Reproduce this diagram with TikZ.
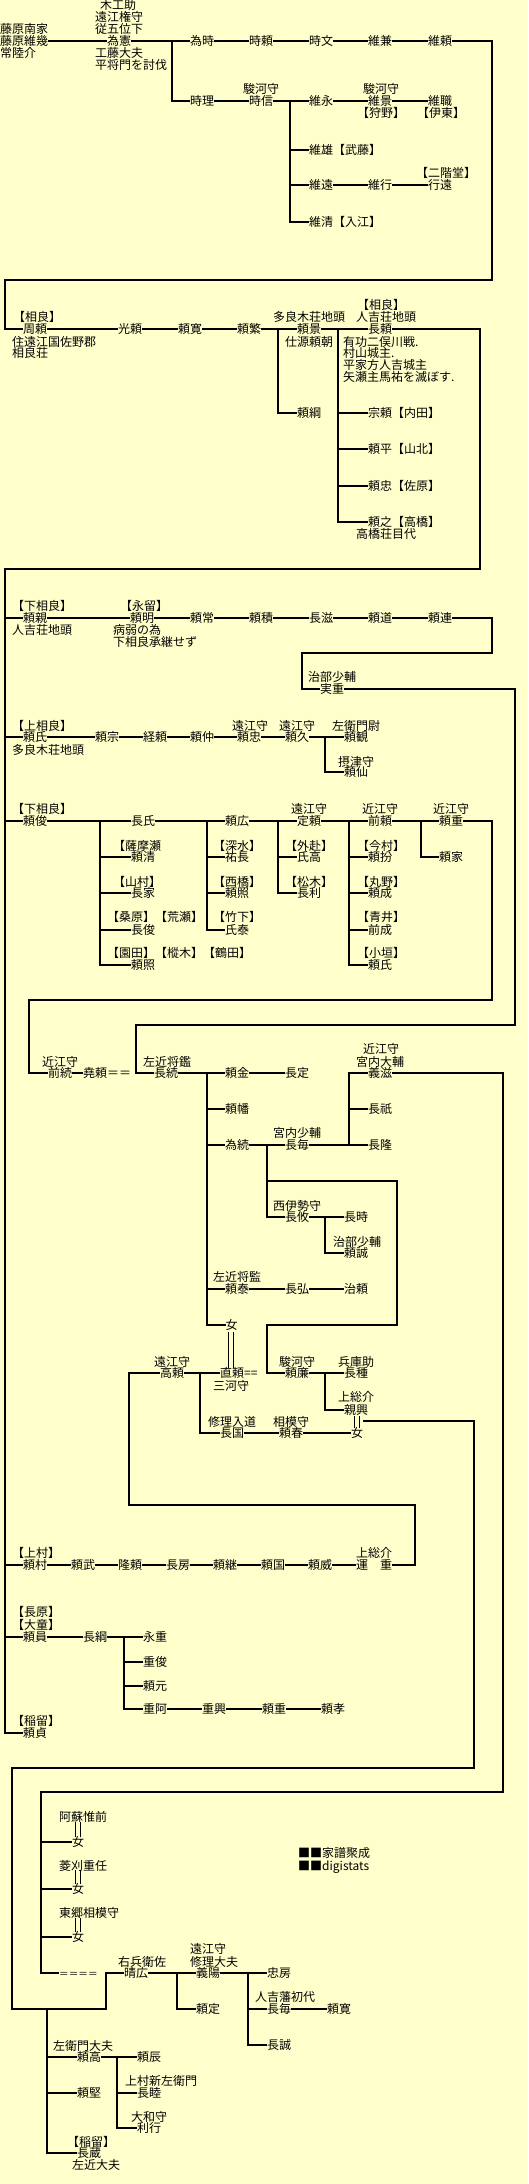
\documentclass[tikz,border=0pt]{standalone}
\usepackage{fontspec}
\newfontfamily\jp{Noto Sans CJK JP}
\definecolor{bgc}{HTML}{FFFFCC}
\newcommand\PN[4]{\node[nm] (#1) at (#2,#3) {#4};}
\begin{document}
\begin{tikzpicture}[x=1pt,y=-1pt,
 nm/.style={anchor=west,inner sep=0pt,text height=10.5pt,text depth=1.5pt,font={\jp\fontsize{12pt}{14pt}\selectfont}},
 ln/.style={line width=2pt},
 dbl/.style={line width=0.9pt}]
\fill[bgc] (0,0) rectangle (528,2184);
\useasboundingbox (0,0) rectangle (528,2184);
% ---------- section A
\PN{nanke}{0}{29.5}{藤原南家}
\PN{koreiku}{0}{41.5}{藤原維幾}
\PN{hitachi}{0}{53.5}{常陸介}
\PN{tA1}{100}{5.5}{木工助}
\PN{tA2}{95}{17.5}{遠江権守}
\PN{tA3}{95}{29.5}{従五位下}
\PN{tamenori}{107}{41.5}{為憲}
\PN{tA4}{95}{53.5}{工藤大夫}
\PN{tA5}{95}{65.5}{平将門を討伐}
\PN{tametoki}{190}{41.5}{為時}
\PN{tokiyori}{249}{41.5}{時頼}
\PN{tokifumi}{309}{41.5}{時文}
\PN{korekane}{368}{41.5}{維兼}
\PN{koreyori}{428}{41.5}{維頼}
\foreach \a/\b in {koreiku/tamenori,tamenori/tametoki,tametoki/tokiyori,tokiyori/tokifumi,tokifumi/korekane,korekane/koreyori} \draw[ln] (\a.east) -- (\b.west);
\coordinate (j1) at (172,41.5);
\PN{tokimasa}{190}{100.5}{時理}
\PN{tB1}{243}{88.5}{駿河守}
\PN{tokinobu}{249}{100.5}{時信}
\PN{korenaga}{309}{100.5}{維永}
\PN{tB2}{363}{88.5}{駿河守}
\PN{korekage}{368}{100.5}{維景}
\PN{tB3}{357}{112.5}{【狩野】}
\PN{koremoto}{428}{100.5}{維職}
\PN{tB4}{417}{112.5}{【伊東】}
\draw[ln] (j1) |- (tokimasa.west);
\foreach \a/\b in {tokimasa/tokinobu,tokinobu/korenaga,korenaga/korekage,korekage/koremoto} \draw[ln] (\a.east) -- (\b.west);
\coordinate (j2) at (290,100.5);
\PN{koreo}{309}{149.5}{維雄【武藤】}
\PN{tB5}{416}{173}{【二階堂】}
\PN{koretoo}{309}{185}{維遠}
\PN{koreyuki}{368}{185}{維行}
\PN{yukitoo}{428}{185}{行遠}
\PN{korekiyo}{309}{221.5}{維清【入江】}
\foreach \c in {koreo,koretoo,korekiyo} \draw[ln] (j2) |- (\c.west);
\foreach \a/\b in {koretoo/koreyuki,koreyuki/yukitoo} \draw[ln] (\a.east) -- (\b.west);
% ---------- section B
\PN{tC1}{13}{316.5}{【相良】}
\PN{chikayori}{23}{328.5}{周頼}
\PN{tC2}{12}{341.5}{住遠江国佐野郡}
\PN{tC3}{12}{353}{相良荘}
\PN{mitsuyori}{118}{328.5}{光頼}
\PN{yorihiro}{178}{328.5}{頼寛}
\PN{yorishige}{237}{328.5}{頼繁}
\PN{tC4}{273}{316.5}{多良木荘地頭}
\PN{yorikage}{297}{328.5}{頼景}
\PN{tC5}{285}{341.5}{仕源頼朝}
\PN{tC6}{357}{305}{【相良】}
\PN{tC7}{356}{316.5}{人吉荘地頭}
\PN{nagayori}{368}{328.5}{長頼}
\coordinate (r1a) at (492,280);
\coordinate (r1b) at (5,280);
\draw[ln] (koreyori.east) -| (r1a) -- (r1b) |- (chikayori.west);
\foreach \a/\b in {chikayori/mitsuyori,mitsuyori/yorihiro,yorihiro/yorishige,yorishige/yorikage,yorikage/nagayori} \draw[ln] (\a.east) -- (\b.west);
\coordinate (j3) at (278,328.5);
\PN{yoritsuna}{297}{412.5}{頼綱}
\draw[ln] (j3) |- (yoritsuna.west);
\coordinate (j4) at (338,328.5);
\PN{tC8}{343}{341.5}{有功二俣川戦.}
\PN{tC9}{343}{353}{村山城主.}
\PN{tC10}{343}{365}{平家方人吉城主}
\PN{tC11}{343}{377}{矢瀬主馬祐を滅ぼす.}
\PN{muneyori}{368}{413}{宗頼【内田】}
\PN{yorihira}{368}{449}{頼平【山北】}
\PN{yoritada}{368}{485.5}{頼忠【佐原】}
\PN{yoriyuki}{368}{521.5}{頼之【高橋】}
\PN{tC12}{356}{533.5}{高橋荘目代}
\foreach \c in {muneyori,yorihira,yoritada,yoriyuki} \draw[ln] (j4) |- (\c.west);
% ---------- section C
\PN{tD1}{12}{605.5}{【下相良】}
\PN{yorichika}{23}{617.5}{頼親}
\PN{tD2}{12}{630}{人吉荘地頭}
\PN{tD3}{120}{605.5}{【永留】}
\PN{yoriaki}{130}{617.5}{頼明}
\PN{tD4}{113}{630}{病弱の為}
\PN{tD5}{113}{641.5}{下相良承継せず}
\PN{yoritsune}{190}{617.5}{頼常}
\PN{yoritsumi}{249}{617.5}{頼積}
\PN{nagashige}{309}{617.5}{長滋}
\PN{yorimichi}{368}{617.5}{頼道}
\PN{yoritsura}{428}{617.5}{頼連}
\foreach \a/\b in {yorichika/yoriaki,yoriaki/yoritsune,yoritsune/yoritsumi,yoritsumi/nagashige,nagashige/yorimichi,yorimichi/yoritsura} \draw[ln] (\a.east) -- (\b.west);
\PN{tD6}{308}{677.3}{治部少輔}
\PN{saneshige}{320}{689.3}{実重}
\coordinate (r3a) at (492,652.7);
\coordinate (r3b) at (302,652.7);
\draw[ln] (yoritsura.east) -| (r3a) -- (r3b) |- (saneshige.west);
% ---------- section D
\PN{tE1}{12}{725.7}{【上相良】}
\PN{yoriuji}{23}{737.3}{頼氏}
\PN{tE2}{12}{750}{多良木荘地頭}
\PN{yorimune}{95}{737.3}{頼宗}
\PN{tsuneyori}{143}{737.3}{経頼}
\PN{yorinaka}{190}{737.3}{頼仲}
\PN{tE3}{232}{725.7}{遠江守}
\PN{yoritadaB}{237}{737.3}{頼忠}
\PN{tE4}{279}{725.7}{遠江守}
\PN{yorihisa}{285}{737.3}{頼久}
\PN{tE5}{332}{725.7}{左衛門尉}
\PN{yorimi}{344}{737.3}{頼観}
\PN{tE6}{338}{761.7}{摂津守}
\PN{yorisen}{344}{772.3}{頼仙}
\foreach \a/\b in {yoriuji/yorimune,yorimune/tsuneyori,tsuneyori/yorinaka,yorinaka/yoritadaB,yoritadaB/yorihisa,yorihisa/yorimi} \draw[ln] (\a.east) -- (\b.west);
\coordinate (j5) at (325,737.3);
\draw[ln] (j5) |- (yorisen.west);
% ---------- section E
\PN{tF1}{12}{809.3}{【下相良】}
\PN{yoritoshi}{23}{820.7}{頼俊}
\PN{nagauji}{131}{820.7}{長氏}
\PN{tF2}{113}{845.7}{【薩摩瀬}
\PN{yorikiyo}{131}{857.3}{頼清}
\PN{tF3}{113}{882.3}{【山村】}
\PN{nagaie}{131}{893.3}{長家}
\PN{tF4}{107}{917.3}{【桑原】【荒瀬】}
\PN{nagatoshi}{131}{930}{長俊}
\PN{tF5}{107}{953.3}{【園田】【樅木】【鶴田】}
\PN{yoriteru}{131}{965}{頼照}
\PN{yorihiroB}{225}{820.7}{頼広}
\PN{tF6}{213}{845.7}{【深水】}
\PN{sukenaga}{225}{857.3}{祐長}
\PN{tF7}{213}{882.3}{【西橋】}
\PN{yoriteruB}{225}{893.3}{頼照}
\PN{tF8}{213}{917.3}{【竹下】}
\PN{ujiyasu}{225}{930}{氏泰}
\PN{tF9}{291}{809.3}{遠江守}
\PN{sadayori}{297}{820.7}{定頼}
\PN{tF10}{285}{845.7}{【外赴】}
\PN{ujitaka}{297}{857.3}{氏高}
\PN{tF11}{285}{882.3}{【松木】}
\PN{nagatoshiB}{297}{893.3}{長利}
\PN{tF12}{362}{809.3}{近江守}
\PN{sakiyori}{368}{820.7}{前頼}
\PN{tF13}{357}{845.7}{【今村】}
\PN{yorifun}{368}{857.3}{頼扮}
\PN{tF14}{357}{882.3}{【丸野】}
\PN{yorinari}{368}{893.3}{頼成}
\PN{tF15}{357}{917.3}{【青井】}
\PN{sakinari}{368}{930}{前成}
\PN{tF16}{357}{953.3}{【小垣】}
\PN{yoriujiB}{368}{965}{頼氏}
\PN{tF17}{433}{809.3}{近江守}
\PN{yorishigeB}{439}{820.7}{頼重}
\PN{yoriie}{439}{857.3}{頼家}
\foreach \a/\b in {yoritoshi/nagauji,nagauji/yorihiroB,yorihiroB/sadayori,sadayori/sakiyori,sakiyori/yorishigeB} \draw[ln] (\a.east) -- (\b.west);
\coordinate (j6) at (100,820.7);
\coordinate (j7) at (207,820.7);
\coordinate (j8) at (278,820.7);
\coordinate (j9) at (349,820.7);
\coordinate (j10) at (421,820.7);
\foreach \c in {yorikiyo,nagaie,nagatoshi,yoriteru} \draw[ln] (j6) |- (\c.west);
\foreach \c in {sukenaga,yoriteruB,ujiyasu} \draw[ln] (j7) |- (\c.west);
\foreach \c in {ujitaka,nagatoshiB} \draw[ln] (j8) |- (\c.west);
\foreach \c in {yorifun,yorinari,sakinari,yoriujiB} \draw[ln] (j9) |- (\c.west);
\draw[ln] (j10) |- (yoriie.west);
% ---------- section F
\PN{tG1}{42}{1062.3}{近江守}
\PN{sakitsugu}{48}{1073.3}{前続}
\PN{takayori}{83}{1073.3}{堯頼＝＝}
\PN{tG2}{143}{1062.3}{左近将鑑}
\PN{nagatsugu}{154}{1073.3}{長続}
\PN{yorikane}{225}{1073.3}{頼金}
\PN{nagasada}{285}{1073.3}{長定}
\PN{tG3}{363}{1049.3}{近江守}
\PN{tG4}{356}{1061.7}{宮内大輔}
\PN{yoshishige}{368}{1073.3}{義滋}
\coordinate (r5a) at (492,1000);
\coordinate (r5b) at (29,1000);
\draw[ln] (yorishigeB.east) -| (r5a) -- (r5b) |- (sakitsugu.west);
\coordinate (r4a) at (515,1025);
\coordinate (r4b) at (136,1025);
\draw[ln] (saneshige.east) -| (r4a) -- (r4b) |- (nagatsugu.west);
\foreach \a/\b in {sakitsugu/takayori,nagatsugu/yorikane,yorikane/nagasada} \draw[ln] (\a.east) -- (\b.west);
\PN{yorihata}{225}{1109}{頼幡}
\PN{tametsugu}{225}{1145}{為続}
\PN{tG5}{273}{1133.3}{宮内少輔}
\PN{nagatsune}{285}{1145}{長毎}
\PN{nagamasa}{368}{1109}{長祇}
\PN{nagataka}{368}{1145}{長隆}
\foreach \a/\b in {tametsugu/nagatsune,nagatsune/nagataka} \draw[ln] (\a.east) -- (\b.west);
\coordinate (j12) at (349,1145);
\draw[ln] (j12) |- (yoshishige.west);
\draw[ln] (j12 |- nagamasa.west) -- (nagamasa.west);
\coordinate (j13) at (267,1145);
\PN{tG6}{273}{1205.7}{西伊勢守}
\PN{nagayu}{285}{1216.7}{長攸}
\draw[ln] (j13) |- (nagayu.west);
\PN{nagatoki}{344}{1216.7}{長時}
\PN{tG7}{333}{1241.7}{治部少輔}
\PN{yorinobu}{344}{1253.3}{頼誠}
\draw[ln] (nagayu.east) -- (nagatoki.west);
\coordinate (j14) at (325,1216.7);
\draw[ln] (j14) |- (yorinobu.west);
\PN{tG8}{213}{1277.3}{左近将監}
\PN{yoriyasu}{225}{1289.3}{頼泰}
\PN{nagahiro}{285}{1289.3}{長弘}
\PN{haruyori}{344}{1289.3}{治頼}
\foreach \a/\b in {yoriyasu/nagahiro,nagahiro/haruyori} \draw[ln] (\a.east) -- (\b.west);
\PN{onnaA}{225.5}{1325}{女}
\coordinate (j11) at (207,1073.3);
\foreach \c in {yorihata,tametsugu,yoriyasu,onnaA} \draw[ln] (j11) |- (\c.west);
% ---------- section G (Kamimura)
\PN{tH1}{154}{1361.7}{遠江守}
\PN{takayoriB}{160}{1373.3}{高頼}
\PN{naoyori}{220}{1373.3}{直頼==}
\PN{tH2}{213}{1386}{三河守}
\PN{tH3}{208}{1421.7}{修理入道}
\PN{nagakuni}{220}{1433.3}{長国}
\PN{tH4}{273}{1421.7}{相模守}
\PN{yoriharu}{279}{1433.3}{頼春}
\PN{onnaB}{351}{1433.3}{女}
\PN{tH5}{279}{1361.7}{駿河守}
\PN{yorikado}{285}{1373.3}{頼廉}
\PN{tH6}{338}{1361.7}{兵庫助}
\PN{nagatane}{344}{1373.3}{長種}
\PN{tH7}{338}{1397.3}{上総介}
\PN{yorioki}{344}{1410}{親興}
\draw[dbl] (228.5,1331.5) -- (228.5,1367.5);
\draw[dbl] (233.5,1331.5) -- (233.5,1367.5);
\draw[dbl] ([xshift=-2.5pt,yshift=-1pt]onnaB.north) -- ([xshift=-2.5pt]onnaB.north |- yorioki.south);
\draw[dbl] ([xshift=2.5pt,yshift=-1pt]onnaB.north) -- ([xshift=2.5pt]onnaB.north |- yorioki.south);
\coordinate (r6a) at (397,1180.7);
\coordinate (r6b) at (397,1325);
\coordinate (r6c) at (267,1325);
\draw[ln] (j13 |- r6a) -- (r6a) -- (r6b) -- (r6c) |- (yorikado.west);
\foreach \a/\b in {takayoriB/naoyori,nagakuni/yoriharu,yoriharu/onnaB,yorikado/nagatane} \draw[ln] (\a.east) -- (\b.west);
\coordinate (j15) at (200,1373.3);
\draw[ln] (j15) |- (nagakuni.west);
\coordinate (j16) at (325,1373.3);
\draw[ln] (j16) |- (yorioki.west);
% ---------- Kamimura line
\PN{tI1}{12}{1553.3}{【上村】}
\PN{yorimura}{23}{1565}{頼村}
\PN{yoritake}{71}{1565}{頼武}
\PN{takayoriC}{118}{1565}{隆頼}
\PN{nagafusa}{166}{1565}{長房}
\PN{yoritsugu}{213}{1565}{頼継}
\PN{yorikuni}{261}{1565}{頼国}
\PN{yoriiB}{308}{1565}{頼威}
\PN{tI2}{356}{1553.3}{上総介}
\PN{kazushige}{356}{1565}{運　重}
\foreach \a/\b in {yorimura/yoritake,yoritake/takayoriC,takayoriC/nagafusa,nagafusa/yoritsugu,yoritsugu/yorikuni,yorikuni/yoriiB,yoriiB/kazushige} \draw[ln] (\a.east) -- (\b.west);
\coordinate (r8a) at (415,1505);
\coordinate (r8b) at (129,1505);
\draw[ln] (kazushige.east) -| (r8a) -- (r8b) |- (takayoriB.west);
\PN{tI3}{12}{1612.3}{【長原】}
\PN{tI4}{12}{1625}{【大童】}
\PN{yorikazu}{23}{1637.3}{頼員}
\PN{nagatsuna}{83}{1637.3}{長綱}
\PN{nagashigeB}{143}{1637.3}{永重}
\PN{shigetoshi}{143}{1661.7}{重俊}
\PN{yorimoto}{143}{1685.7}{頼元}
\PN{shigeo}{143}{1709.3}{重阿}
\PN{shigeoki}{202}{1709.3}{重興}
\PN{yorishigeC}{262}{1709.3}{頼重}
\PN{yoritaka}{321}{1709.3}{頼孝}
\PN{tI5}{12}{1721}{【稲留】}
\PN{yorisada}{23}{1732.7}{頼貞}
\foreach \a/\b in {yorikazu/nagatsuna,nagatsuna/nagashigeB,shigeo/shigeoki,shigeoki/yorishigeC,yorishigeC/yoritaka} \draw[ln] (\a.east) -- (\b.west);
\coordinate (j17) at (124,1637.3);
\foreach \c in {shigetoshi,yorimoto,shigeo} \draw[ln] (j17) |- (\c.west);
% ---------- trunk
\coordinate (r2a) at (480,569);
\coordinate (r2b) at (5,569);
\draw[ln] (nagayori.east) -| (r2a) -- (r2b) |- (yorisada.west);
\foreach \c in {yorichika,yoriuji,yoritoshi,yorimura,yorikazu} \draw[ln] (r2b |- \c.west) -- (\c.west);
% ---------- section H
\PN{tJ1}{59}{1817.3}{阿蘇惟前}
\PN{onnaC}{72}{1841.7}{女}
\PN{tJ2}{59}{1865.7}{菱刈重任}
\PN{onnaD}{72}{1889.3}{女}
\PN{tJ3}{59}{1913.3}{東郷相模守}
\PN{onnaE}{72}{1936.7}{女}
\foreach \w/\h in {onnaC/tJ1,onnaD/tJ2,onnaE/tJ3} {
 \draw[dbl] ([xshift=-3pt,yshift=1.5pt]\w.north |- \h.south) -- ([xshift=-3pt,yshift=-1pt]\w.north);
 \draw[dbl] ([xshift=2pt,yshift=1.5pt]\w.north |- \h.south) -- ([xshift=2pt,yshift=-1pt]\w.north);
}
\node[nm,font={\jp\fontsize{9.6pt}{12pt}\selectfont}] (eqs) at (59,1973.3) {＝＝＝＝};
\PN{tJ4}{118}{1962.3}{右兵衛佐}
\PN{haruhiro}{124}{1973.3}{晴広}
\PN{tJ5}{190}{1949.3}{遠江守}
\PN{tJ6}{190}{1961.7}{修理大夫}
\PN{yoshihi}{196}{1973.3}{義陽}
\PN{yorisadaB}{196}{2009}{頼定}
\PN{tadafusa}{267}{1973.3}{忠房}
\PN{tJ7}{255}{1997.3}{人吉藩初代}
\PN{nagatsuneB}{267}{2009}{長毎}
\PN{yorihiroC}{327}{2009}{頼寛}
\PN{nagatomo}{267}{2045}{長誠}
\PN{credit1}{298}{1853.3}{■■家譜聚成}
\PN{credit2}{298}{1865.7}{■■digistats}
\coordinate (r9a) at (503,1792.3);
\coordinate (r9b) at (41,1792.3);
\draw[ln] (yoshishige.east) -| (r9a) -- (r9b) |- (eqs.west);
\foreach \c in {onnaC,onnaD,onnaE} \draw[ln] (r9b |- \c.west) -- (\c.west);
\coordinate (r7s) at (363,1421);
\coordinate (r7a) at (474,1768.3);
\coordinate (r7b) at (12,1768.3);
\coordinate (r7c) at (106,2009);
\draw[ln] (r7s) -| (r7a) -- (r7b) |- (r7c) |- (haruhiro.west);
\foreach \a/\b in {haruhiro/yoshihi,yoshihi/tadafusa,nagatsuneB/yorihiroC} \draw[ln] (\a.east) -- (\b.west);
\coordinate (j18) at (177,1973.3);
\draw[ln] (j18) |- (yorisadaB.west);
\coordinate (j19) at (248,1973.3);
\foreach \c in {nagatsuneB,nagatomo} \draw[ln] (j19) |- (\c.west);
% ---------- bottom
\coordinate (j20) at (47,2009);
\PN{tK1}{53}{2046}{左衛門大夫}
\PN{yoritakaB}{77}{2056.7}{頼高}
\PN{yoritoki}{137}{2056.7}{頼辰}
\PN{tK2}{125}{2081}{上村新左衛門}
\PN{nagachika}{137}{2093.3}{長睦}
\PN{tK3}{131}{2116.7}{大和守}
\PN{toshiyuki}{137}{2128.3}{利行}
\PN{yorikata}{77}{2093.3}{頼堅}
\PN{tK4}{67}{2141.7}{【稲留】}
\PN{nagakura}{77}{2152.7}{長蔵}
\PN{tK5}{72}{2165}{左近大夫}
\foreach \c in {yoritakaB,yorikata,nagakura} \draw[ln] (j20) |- (\c.west);
\draw[ln] (yoritakaB.east) -- (yoritoki.west);
\coordinate (j21) at (117,2056.7);
\foreach \c in {nagachika,toshiyuki} \draw[ln] (j21) |- (\c.west);
\end{tikzpicture}
\end{document}
